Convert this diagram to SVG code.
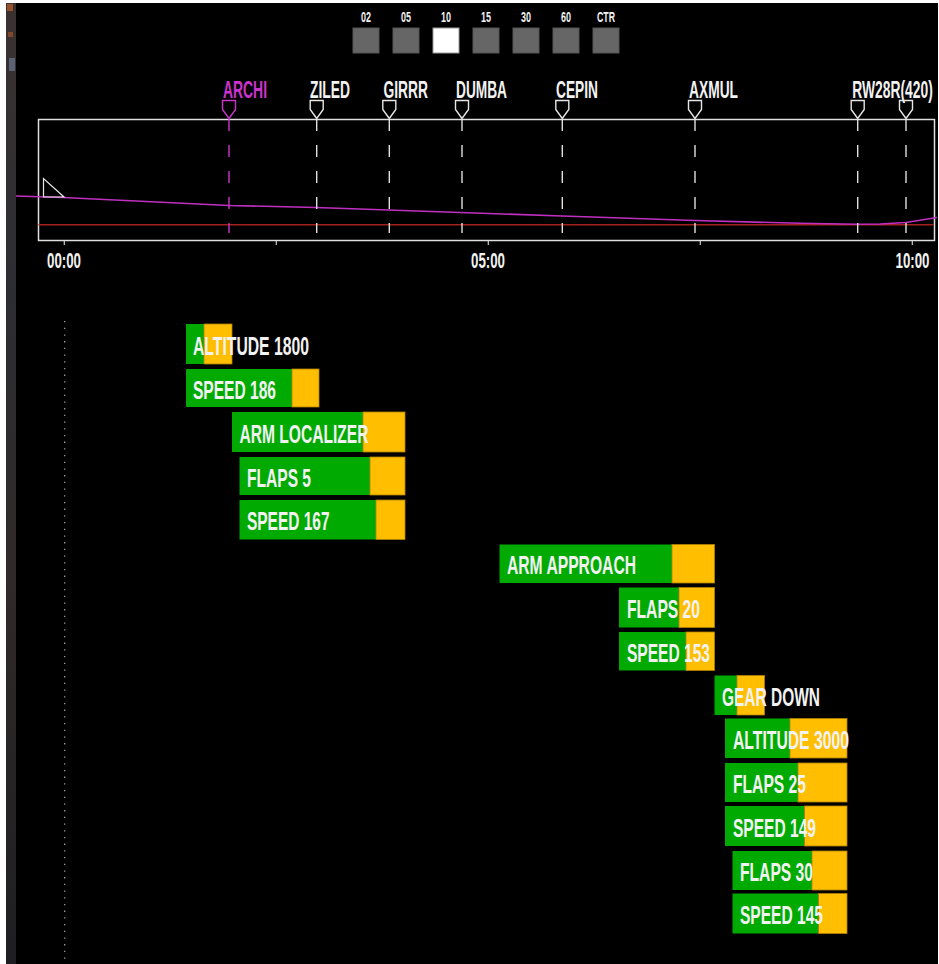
<svg xmlns="http://www.w3.org/2000/svg" width="939" height="964" viewBox="0 0 939 964">
<defs>
<linearGradient id="strip" x1="0" y1="0" x2="0" y2="1">
<stop offset="0" stop-color="#3a3230"/>
<stop offset="0.3" stop-color="#2c2d33"/>
<stop offset="0.6" stop-color="#302a28"/>
<stop offset="1" stop-color="#1e1e22"/>
</linearGradient>
<style>
.t{font-family:"Liberation Sans Narrow","Liberation Sans",Arial,sans-serif;font-weight:bold;fill:#f2f2f2}
.btn{fill:#666;stroke:#555;stroke-width:1}
.btnsel{fill:#fff;stroke:#999;stroke-width:1}
.bl{font-size:14px;text-anchor:middle}
.wp{fill:none;stroke:#e6e6e6;stroke-width:1.4}
.wpm{fill:none;stroke:#cc33cc;stroke-width:1.4}
.dash{stroke:#e0e0e0;stroke-width:1.4;stroke-dasharray:12 14}
.dashm{stroke:#cc33cc;stroke-width:1.4;stroke-dasharray:12 14}
.wl{font-size:24px}
.tl{font-size:22px;text-anchor:middle}
.tick{stroke:#ccc;stroke-width:1.2}
.g{fill:#00aa00}
.o{fill:#ffbf00;stroke:#b08000;stroke-width:0.8}
.bt{font-size:26px}
</style>
</defs>
<rect x="0" y="0" width="939" height="964" fill="#ffffff"/>
<rect x="6" y="3" width="932" height="961" fill="#000"/>
<rect x="6" y="3" width="10" height="961" fill="url(#strip)"/>
<rect x="7" y="4" width="6" height="7" fill="#b05a2a" opacity="0.8"/>
<rect x="8" y="32" width="5" height="5" fill="#a0502a" opacity="0.7"/>
<rect x="9" y="58" width="6" height="13" fill="#6a7890" opacity="0.7"/>

<g id="buttons">
<text class="t bl" x="366" y="22" textLength="10" lengthAdjust="spacingAndGlyphs">02</text>
<text class="t bl" x="406" y="22" textLength="10" lengthAdjust="spacingAndGlyphs">05</text>
<text class="t bl" x="446" y="22" textLength="10" lengthAdjust="spacingAndGlyphs">10</text>
<text class="t bl" x="486" y="22" textLength="10" lengthAdjust="spacingAndGlyphs">15</text>
<text class="t bl" x="526" y="22" textLength="10" lengthAdjust="spacingAndGlyphs">30</text>
<text class="t bl" x="566" y="22" textLength="10" lengthAdjust="spacingAndGlyphs">60</text>
<text class="t bl" x="606" y="22" textLength="18" lengthAdjust="spacingAndGlyphs">CTR</text>
<rect class="btn" x="353" y="28" width="26" height="25"/>
<rect class="btn" x="393" y="28" width="26" height="25"/>
<rect class="btnsel" x="433" y="28" width="26" height="25"/>
<rect class="btn" x="473" y="28" width="26" height="25"/>
<rect class="btn" x="513" y="28" width="26" height="25"/>
<rect class="btn" x="553" y="28" width="26" height="25"/>
<rect class="btn" x="593" y="28" width="26" height="25"/>
</g>

<g id="profile">
<rect x="38.5" y="119.5" width="896" height="121" fill="none" stroke="#e0e0e0" stroke-width="1.5"/>
<line x1="38.5" y1="224.7" x2="934" y2="224.7" stroke="#a3201c" stroke-width="1.6"/>
<polyline points="16,196 63,197.5 229,205.5 316,207.5 460,212.5 562,216 695,220.5 800,223.3 857,224.3 880,224 906,222.5 937,217.5" fill="none" stroke="#c030c0" stroke-width="1.6"/>
<polygon points="43.5,178.5 43.5,197 64,197" fill="none" stroke="#e6e6e6" stroke-width="1.2"/>
<line class="tick" x1="64.3" y1="241" x2="64.3" y2="245"/>
<line class="tick" x1="276.3" y1="241" x2="276.3" y2="245"/>
<line class="tick" x1="488.3" y1="241" x2="488.3" y2="245"/>
<line class="tick" x1="700.3" y1="241" x2="700.3" y2="245"/>
<line class="tick" x1="912.3" y1="241" x2="912.3" y2="245"/>
<text class="t tl" x="64" y="268" textLength="34" lengthAdjust="spacingAndGlyphs">00:00</text>
<text class="t tl" x="488" y="268" textLength="34" lengthAdjust="spacingAndGlyphs">05:00</text>
<text class="t tl" x="912.5" y="268" textLength="34" lengthAdjust="spacingAndGlyphs">10:00</text>
</g>

<g id="wp-archi">
<line class="dashm" x1="229" y1="119" x2="229" y2="233"/>
<path class="wpm" d="M222.5,100.5 H235.5 V109.5 L229,118.5 L222.5,109.5 Z"/>
<text class="t wl" x="223" y="98" textLength="44" lengthAdjust="spacingAndGlyphs" style="fill:#cc33cc">ARCHI</text>
</g>
<g id="wp-ziled">
<line class="dash" x1="316.7" y1="119" x2="316.7" y2="233"/>
<path class="wp" d="M310.2,100.5 H323.2 V109.5 L316.7,118.5 L310.2,109.5 Z"/>
<text class="t wl" x="310" y="98" textLength="40" lengthAdjust="spacingAndGlyphs">ZILED</text>
</g>
<g id="wp-girrr">
<line class="dash" x1="389.3" y1="119" x2="389.3" y2="233"/>
<path class="wp" d="M382.8,100.5 H395.8 V109.5 L389.3,118.5 L382.8,109.5 Z"/>
<text class="t wl" x="383.5" y="98" textLength="44.5" lengthAdjust="spacingAndGlyphs">GIRRR</text>
</g>
<g id="wp-dumba">
<line class="dash" x1="462" y1="119" x2="462" y2="233"/>
<path class="wp" d="M455.5,100.5 H468.5 V109.5 L462,118.5 L455.5,109.5 Z"/>
<text class="t wl" x="456" y="98" textLength="51" lengthAdjust="spacingAndGlyphs">DUMBA</text>
</g>
<g id="wp-cepin">
<line class="dash" x1="562.3" y1="119" x2="562.3" y2="233"/>
<path class="wp" d="M555.8,100.5 H568.8 V109.5 L562.3,118.5 L555.8,109.5 Z"/>
<text class="t wl" x="556" y="98" textLength="42" lengthAdjust="spacingAndGlyphs">CEPIN</text>
</g>
<g id="wp-axmul">
<line class="dash" x1="695" y1="119" x2="695" y2="233"/>
<path class="wp" d="M688.5,100.5 H701.5 V109.5 L695,118.5 L688.5,109.5 Z"/>
<text class="t wl" x="689" y="98" textLength="49" lengthAdjust="spacingAndGlyphs">AXMUL</text>
</g>
<g id="wp-rw28r">
<line class="dash" x1="857.7" y1="119" x2="857.7" y2="233"/>
<path class="wp" d="M851.2,100.5 H864.2 V109.5 L857.7,118.5 L851.2,109.5 Z"/>
<text class="t wl" x="852.3" y="98" textLength="80.5" lengthAdjust="spacingAndGlyphs">RW28R(420)</text>
</g>
<g id="wp-rw28r-2">
<line class="dash" x1="906" y1="119" x2="906" y2="233"/>
<path class="wp" d="M899.5,100.5 H912.5 V109.5 L906,118.5 L899.5,109.5 Z"/>
</g>

<line x1="64.7" y1="321" x2="64.7" y2="960" stroke="#aaaaaa" stroke-width="1.2" stroke-dasharray="1.3 5.4"/>

<g id="bar-altitude-1800">
<rect class="g" x="186" y="324" width="18" height="40"/>
<rect class="o" x="204" y="324" width="28" height="40"/>
<text class="t bt" x="193" y="354.5" textLength="116" lengthAdjust="spacingAndGlyphs">ALTITUDE 1800</text>
</g>
<g id="bar-speed-186">
<rect class="g" x="186" y="369" width="106" height="38"/>
<rect class="o" x="292" y="369" width="27" height="38"/>
<text class="t bt" x="193" y="398.5" textLength="83" lengthAdjust="spacingAndGlyphs">SPEED 186</text>
</g>
<g id="bar-arm-localizer">
<rect class="g" x="232" y="412" width="131" height="40"/>
<rect class="o" x="363" y="412" width="42" height="40"/>
<text class="t bt" x="239.5" y="442.5" textLength="129" lengthAdjust="spacingAndGlyphs">ARM LOCALIZER</text>
</g>
<g id="bar-flaps-5">
<rect class="g" x="239.5" y="457" width="130.5" height="38"/>
<rect class="o" x="370" y="457" width="35" height="38"/>
<text class="t bt" x="247" y="486.5" textLength="64" lengthAdjust="spacingAndGlyphs">FLAPS 5</text>
</g>
<g id="bar-speed-167">
<rect class="g" x="239.5" y="500" width="136.5" height="39.5"/>
<rect class="o" x="376" y="500" width="29" height="39.5"/>
<text class="t bt" x="247" y="530" textLength="82.5" lengthAdjust="spacingAndGlyphs">SPEED 167</text>
</g>
<g id="bar-arm-approach">
<rect class="g" x="499.5" y="544.5" width="172.5" height="38.5"/>
<rect class="o" x="672" y="544.5" width="42.5" height="38.5"/>
<text class="t bt" x="507" y="574" textLength="129" lengthAdjust="spacingAndGlyphs">ARM APPROACH</text>
</g>
<g id="bar-flaps-20">
<rect class="g" x="619" y="587.5" width="60" height="40"/>
<rect class="o" x="679" y="587.5" width="35.5" height="40"/>
<text class="t bt" x="627" y="618" textLength="73" lengthAdjust="spacingAndGlyphs">FLAPS 20</text>
</g>
<g id="bar-speed-153">
<rect class="g" x="619" y="632" width="67" height="38.5"/>
<rect class="o" x="686" y="632" width="28.5" height="38.5"/>
<text class="t bt" x="627" y="661.5" textLength="83" lengthAdjust="spacingAndGlyphs">SPEED 153</text>
</g>
<g id="bar-gear-down">
<rect class="g" x="714.5" y="675.5" width="22.5" height="39.5"/>
<rect class="o" x="737" y="675.5" width="27.5" height="39.5"/>
<text class="t bt" x="722" y="706" textLength="98" lengthAdjust="spacingAndGlyphs">GEAR DOWN</text>
</g>
<g id="bar-altitude-3000">
<rect class="g" x="725" y="718.5" width="65" height="39.5"/>
<rect class="o" x="790" y="718.5" width="57" height="39.5"/>
<text class="t bt" x="733" y="749" textLength="116" lengthAdjust="spacingAndGlyphs">ALTITUDE 3000</text>
</g>
<g id="bar-flaps-25">
<rect class="g" x="725" y="763" width="73" height="39"/>
<rect class="o" x="798" y="763" width="49" height="39"/>
<text class="t bt" x="733" y="793" textLength="73" lengthAdjust="spacingAndGlyphs">FLAPS 25</text>
</g>
<g id="bar-speed-149">
<rect class="g" x="725" y="806" width="79.5" height="40"/>
<rect class="o" x="804.5" y="806" width="42.5" height="40"/>
<text class="t bt" x="733" y="836.5" textLength="83" lengthAdjust="spacingAndGlyphs">SPEED 149</text>
</g>
<g id="bar-flaps-30">
<rect class="g" x="732.5" y="851" width="79.5" height="39"/>
<rect class="o" x="812" y="851" width="35" height="39"/>
<text class="t bt" x="740" y="881" textLength="73" lengthAdjust="spacingAndGlyphs">FLAPS 30</text>
</g>
<g id="bar-speed-145">
<rect class="g" x="732.5" y="893.5" width="86" height="40"/>
<rect class="o" x="818.5" y="893.5" width="28.5" height="40"/>
<text class="t bt" x="740" y="924" textLength="83" lengthAdjust="spacingAndGlyphs">SPEED 145</text>
</g>
</svg>
